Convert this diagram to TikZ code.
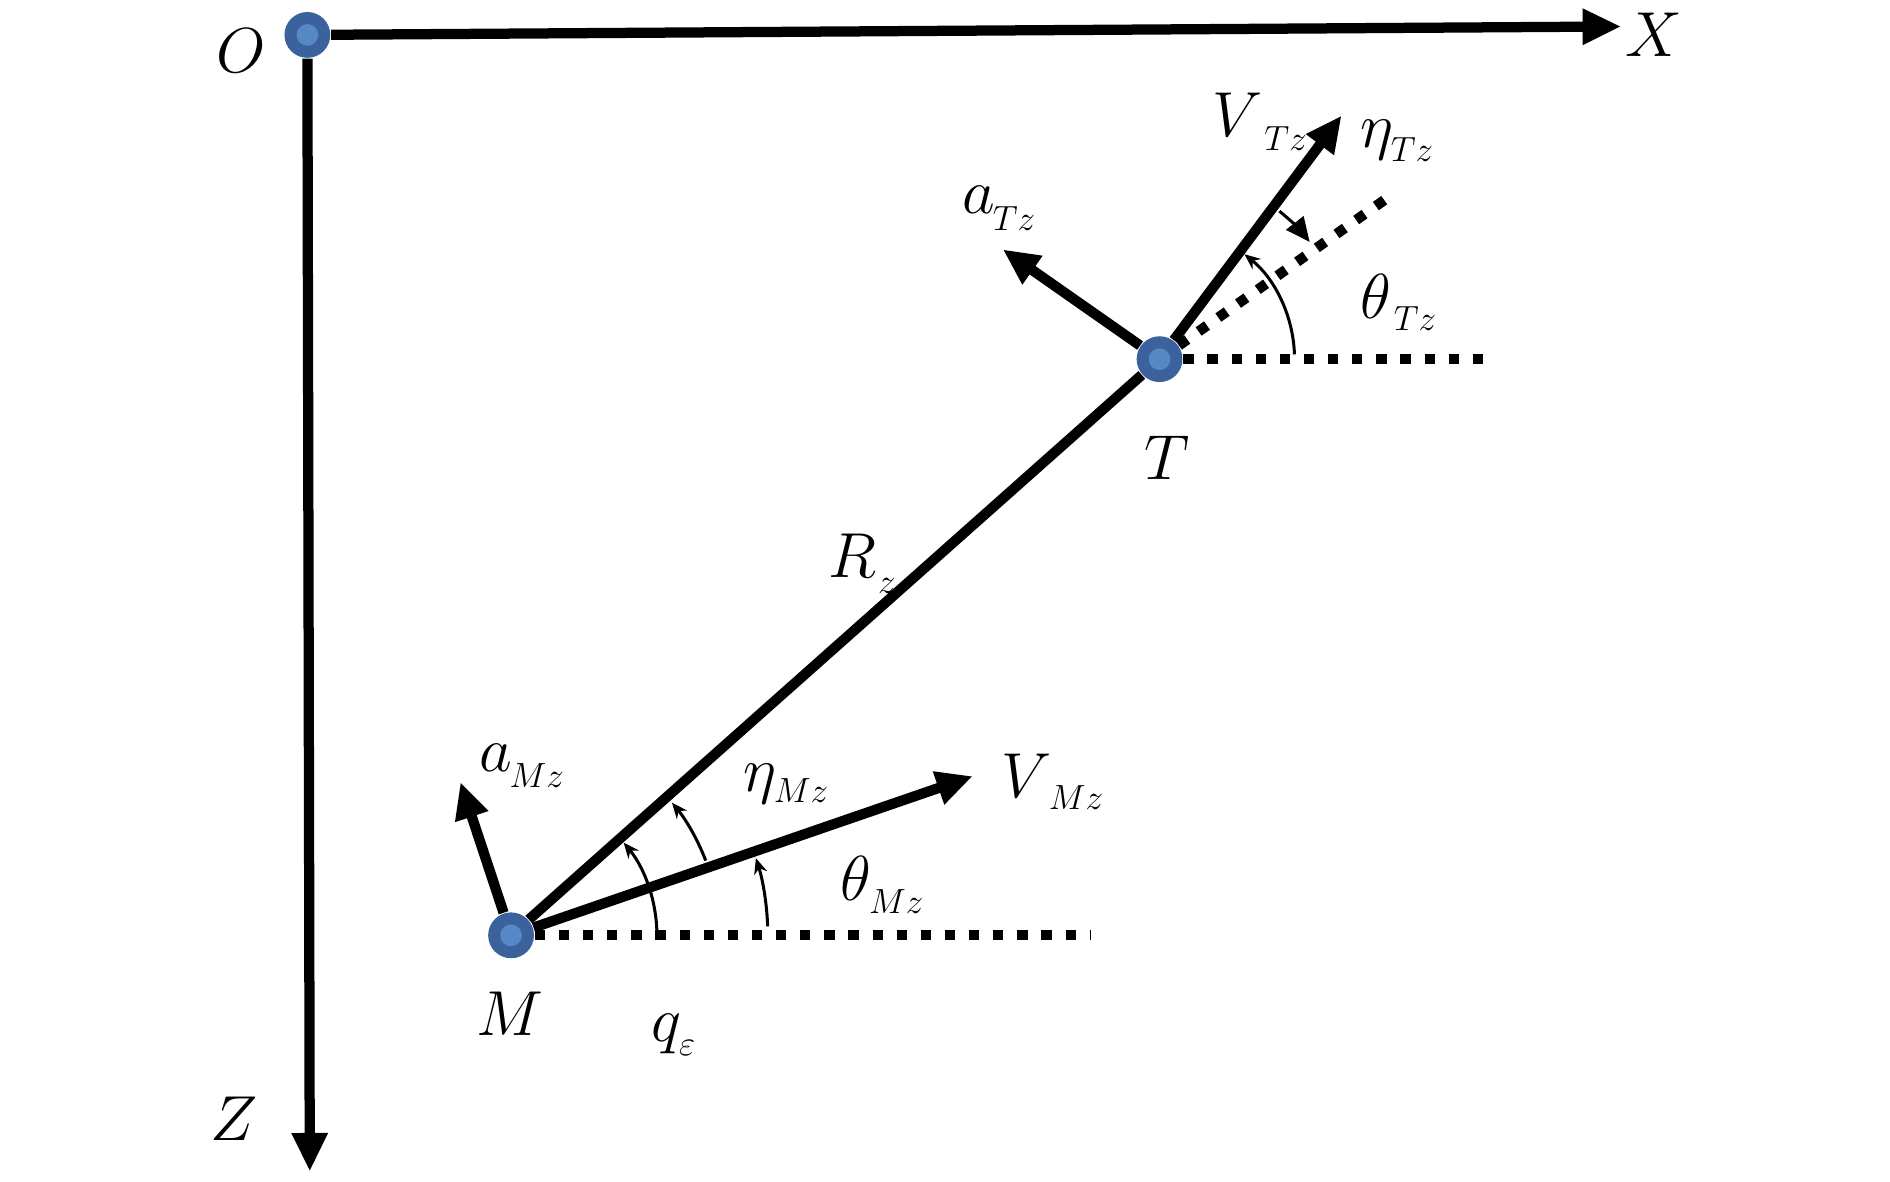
\documentclass[tikz,border=0pt]{standalone}
\usepackage{fix-cm}
\usepackage{graphicx}
\usetikzlibrary{arrows.meta}
\definecolor{dotout}{RGB}{60,98,158}
\definecolor{dotin}{RGB}{86,136,198}
\newcommand\lab[4][-0.6pt]{$#2{}$\kern#1\raisebox{-#4}{\scalebox{0.55}{$#3$}}}
\begin{document}
\begin{tikzpicture}[x=0.01cm,y=0.01cm,
  axis/.style={line width=0.085cm, -{Triangle[length=0.32cm,width=0.28cm]}},
  vec/.style={line width=0.085cm, -{Triangle[length=0.3cm,width=0.27cm]}},
  thickline/.style={line width=0.085cm},
  dotline/.style={line width=0.085cm, dash pattern=on 0.085cm off 0.115cm},
  anglearc/.style={line width=0.025cm, -{Stealth[length=0.13cm,width=0.11cm]}},
  bigarc/.style={line width=0.025cm, -{Triangle[length=0.2cm,width=0.18cm]}},
  pt/.style={circle, fill=dotout, minimum size=0.38cm, inner sep=0pt},
  lbl/.style={inner sep=0pt, font=\fontsize{15}{18}\selectfont},
]
\fill[white] (0,0) rectangle (1568,980);
\useasboundingbox (0,0) rectangle (1568,980);

% points
\node[pt] (O) at (255,951) {};
\node[pt] (T) at (962,682) {};
\node[pt] (M) at (424,204) {};

% free ends
\coordinate (Xtip) at (1345,958);
\coordinate (Ztip) at (257,8);
\coordinate (VTtip) at (1113,884);
\coordinate (aTtip) at (832,773);
\coordinate (aMtip) at (382,331);
\coordinate (VMtip) at (807,336);
\coordinate (TLend) at (1157,820);
\coordinate (THend) at (1240,682);
\coordinate (MHend) at (905,204);

% axes
\draw[axis] (O) -- (Xtip);
\draw[axis] (O) -- (Ztip);

% line of sight
\draw[thickline] (M) -- (T);

% target
\draw[dotline] (T) -- (THend);
\draw[dotline] (T) -- (TLend);
\draw[vec] (T) -- (VTtip);
\draw[vec] (T) -- (aTtip);

% missile
\draw[dotline] (M) -- (MHend);
\draw[vec] (M) -- (VMtip);
\draw[vec] (M) -- (aMtip);

% angle arcs
\draw[anglearc] ([shift={(2:121)}]M.center) arc[start angle=2, end angle=39.5, radius=121];
\draw[anglearc] ([shift={(21:173)}]M.center) arc[start angle=21, end angle=39.5, radius=173];
\draw[anglearc] ([shift={(2:213)}]M.center) arc[start angle=2, end angle=17.5, radius=213];
\draw[anglearc] ([shift={(2:112)}]T.center) arc[start angle=2, end angle=51, radius=112];
\draw[bigarc] ([shift={(51:158)}]T.center) arc[start angle=51, end angle=38, radius=158];

% dot centres
\fill[dotin] (O.center) circle (9);
\fill[dotin] (T.center) circle (9);
\fill[dotin] (M.center) circle (9);

% labels
\node[lbl] (lO) at (200,938) {$O$};
\node[lbl] (lX) at (1372,951) {$X$};
\node[lbl] (lZ) at (194,52) {$Z$};
\node[lbl] (lT) at (968,600) {$T$};
\node[lbl] (lM) at (423,139) {$M$};
\node[lbl, anchor=base west] (lR) at (687,501) {\lab[0.3pt]{R}{z}{3.7pt}};
\node[lbl, anchor=base west] (lVT) at (1005,867) {\lab[0.5pt]{V}{Tz}{3.4pt}};
\node[lbl, anchor=base west] (leT) at (1128,858) {\lab{\eta}{Tz}{3.4pt}};
\node[lbl, anchor=base west] (lthT) at (1128,716) {\lab[0.6pt]{\theta}{Tz}{2.8pt}};
\node[lbl, anchor=base west] (laT) at (798,803) {\lab{a}{Tz}{4pt}};
\node[lbl, anchor=base west] (lVM) at (830,318) {\lab{V}{Mz}{2.8pt}};
\node[lbl, anchor=base west] (leM) at (616,323) {\lab{\eta}{Mz}{2.6pt}};
\node[lbl, anchor=base west] (lthM) at (697,233) {\lab{\theta}{Mz}{3.1pt}};
\node[lbl, anchor=base west] (laM) at (397,340) {\lab{a}{Mz}{3.7pt}};
\node[lbl, anchor=base west] (lq) at (540,116) {\lab{q}{\varepsilon}{3.4pt}};
\end{tikzpicture}
\end{document}
